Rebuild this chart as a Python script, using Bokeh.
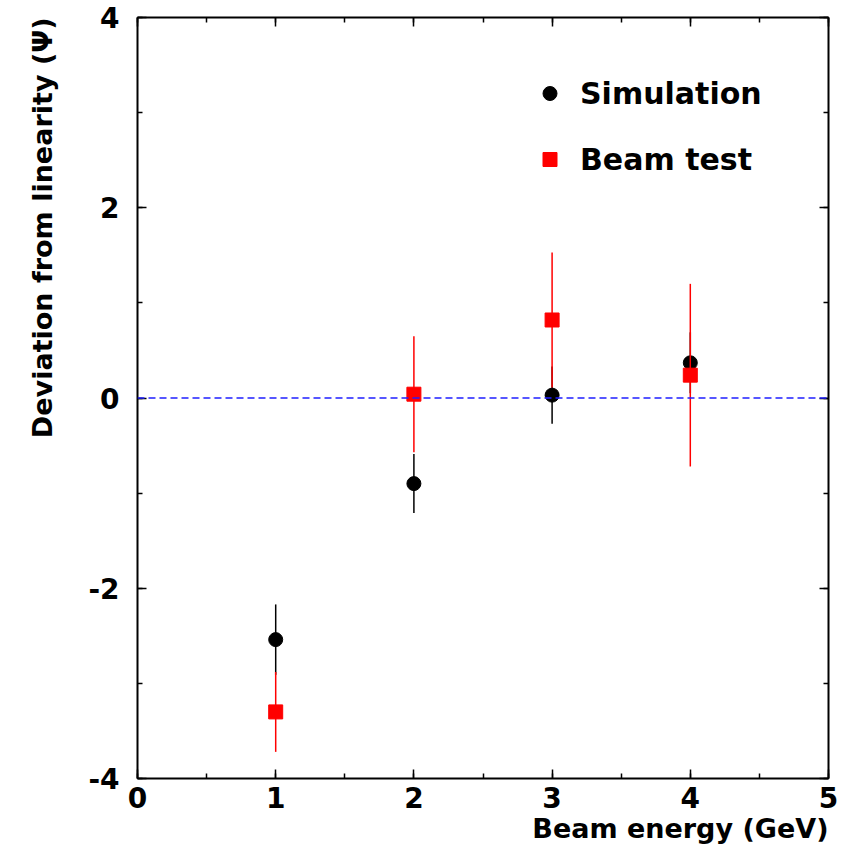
import math
from bokeh.plotting import figure
from bokeh.models import (Range1d, SingleIntervalTicker, LinearAxis, Legend,
                          LegendItem, Span, Title, CustomJSTickFormatter)
from bokeh.embed import file_html
from bokeh.resources import INLINE

# ---- data ----
energy = [1, 2, 3, 4]
sim_dev = [-2.54, -0.90, 0.03, 0.37]
sim_err = [0.37, 0.31, 0.30, 0.32]
beam_dev = [-3.30, 0.04, 0.82, 0.24]
beam_err = [0.42, 0.61, 0.71, 0.96]
x_title = "Beam energy (GeV)"
y_title = "Deviation from linearity (\u03a8)"
sim_label = "Simulation"
beam_label = "Beam test"

FONT = "DejaVu Sans"

p = figure(width=848, height=847, output_backend="svg", toolbar_location=None,
           x_range=Range1d(0, 5), y_range=Range1d(-4, 4),
           min_border_left=137, min_border_right=20, min_border_top=17,
           min_border_bottom=69, x_axis_type=None, y_axis_type=None)
p.xgrid.visible = False
p.ygrid.visible = False
p.outline_line_color = None
p.background_fill_color = "white"
p.border_fill_color = "white"

plain = CustomJSTickFormatter(code="return tick.toFixed(0).replace('\u2212', '-');")


def style_axis(ax, show_labels, standoff=10):
    ax.axis_line_width = 2
    ax.axis_line_color = "black"
    ax.major_tick_in = 9
    ax.major_tick_out = 0
    ax.minor_tick_in = 5
    ax.minor_tick_out = 0
    ax.major_tick_line_width = 1.5
    ax.minor_tick_line_width = 1.5
    ax.major_label_text_font = FONT
    ax.major_label_text_font_style = "bold"
    ax.major_label_text_color = "black"
    ax.major_label_text_font_size = "28px"
    ax.major_label_standoff = standoff
    if show_labels:
        ax.formatter = plain
    else:
        ax.formatter = CustomJSTickFormatter(code="return '';")
        ax.major_label_standoff = 0


xt = lambda: SingleIntervalTicker(interval=1, num_minor_ticks=2)
yt = lambda: SingleIntervalTicker(interval=2, num_minor_ticks=2)

xb = LinearAxis(ticker=xt())
style_axis(xb, True, 8)
p.add_layout(xb, "below")
xa = LinearAxis(ticker=xt())
style_axis(xa, False)
p.add_layout(xa, "above")
yl = LinearAxis(ticker=yt())
style_axis(yl, True, 18)
p.add_layout(yl, "left")
yr = LinearAxis(ticker=yt())
style_axis(yr, False)
p.add_layout(yr, "right")

# zero line
p.add_layout(Span(location=0, dimension="width", line_color="#1f1fff",
                  line_width=1.5, line_dash="7 4"))

# error bars + markers
sim_lo = [v - e for v, e in zip(sim_dev, sim_err)]
sim_hi = [v + e for v, e in zip(sim_dev, sim_err)]
beam_lo = [v - e for v, e in zip(beam_dev, beam_err)]
beam_hi = [v + e for v, e in zip(beam_dev, beam_err)]

p.segment(x0=energy, y0=sim_lo, x1=energy, y1=sim_hi, line_color="black", line_width=1.5)
r_sim = p.scatter(energy, sim_dev, marker="circle", size=14, fill_color="black",
                  line_color="black")
p.segment(x0=energy, y0=beam_lo, x1=energy, y1=beam_hi, line_color="red", line_width=1.5)
r_beam = p.scatter(energy, beam_dev, marker="square", size=14, fill_color="red",
                   line_color="red")

legend = Legend(items=[LegendItem(label=sim_label, renderers=[r_sim]),
                       LegendItem(label=beam_label, renderers=[r_beam])],
                location=(395, 601), padding=0, margin=0, spacing=30,
                glyph_width=35, glyph_height=36, label_height=36,
                label_standoff=13, border_line_color=None,
                background_fill_alpha=0,
                label_text_font=FONT, label_text_font_style="bold",
                label_text_color="black",
                label_text_font_size="30px", label_text_baseline="alphabetic")
p.add_layout(legend, "center")

# axis titles
p.add_layout(Title(text=x_title, align="right", text_font=FONT,
                   text_font_style="bold", text_font_size="27px",
                   text_color="black", standoff=0, offset=0), "below")
p.add_layout(Title(text=y_title, align="right", vertical_align="top", text_font=FONT,
                   text_font_style="bold", text_font_size="27px",
                   text_color="black", standoff=52, offset=0), "left")

open("out.html", "w").write(file_html(p, INLINE))
